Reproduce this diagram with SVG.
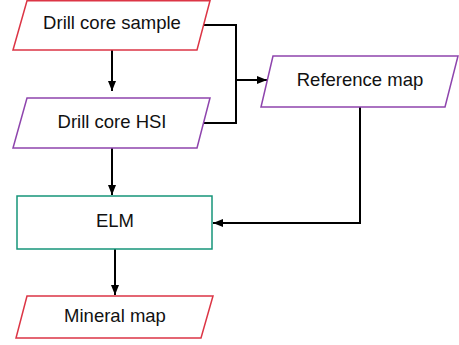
<svg xmlns="http://www.w3.org/2000/svg" width="459" height="345" viewBox="0 0 459 345">
<style>
.n{fill:#fff;stroke-width:1.5}
.red{stroke:#dc3545}
.pur{stroke:#8e44ad}
.grn{stroke:#16957a}
text{font-family:"Liberation Sans",Arial,sans-serif;font-size:18.5px;fill:#111;text-anchor:middle}
.c{fill:none;stroke:#000;stroke-width:2}
</style>
<defs>
<marker id="ah" viewBox="0 0 10 8" refX="10" refY="4" markerWidth="10" markerHeight="8" markerUnits="userSpaceOnUse" orient="auto">
<path d="M0,0 L10,4 L0,8 Z" fill="#000"/>
</marker>
</defs>
<rect width="459" height="345" fill="#fff"/>
<g id="connectors">
<path class="c" d="M112,50 V91" marker-end="url(#ah)"/>
<path class="c" d="M203,25 H236 V123 H203"/>
<path class="c" d="M236,80 H267" marker-end="url(#ah)"/>
<path class="c" d="M112,148 V195" marker-end="url(#ah)"/>
<path class="c" d="M360,107 V223 H213" marker-end="url(#ah)"/>
<path class="c" d="M115,249 V295" marker-end="url(#ah)"/>
</g>
<g id="drill-core-sample">
<polygon class="n red" points="27,0.75 210,0.75 197,50 13,50"/>
<text x="112" y="29">Drill core sample</text>
</g>
<g id="drill-core-hsi">
<polygon class="n pur" points="27,98 210,98 197,148 13,148"/>
<text x="112" y="128">Drill core HSI</text>
</g>
<g id="reference-map">
<polygon class="n pur" points="273,56 458,56 445,107 261,107"/>
<text x="360" y="86">Reference map</text>
</g>
<g id="elm">
<rect class="n grn" x="17" y="196" width="195" height="53"/>
<text x="115" y="227">ELM</text>
</g>
<g id="mineral-map">
<polygon class="n red" points="27,296 213,296 201,338 16,338"/>
<text x="115" y="322">Mineral map</text>
</g>
</svg>
